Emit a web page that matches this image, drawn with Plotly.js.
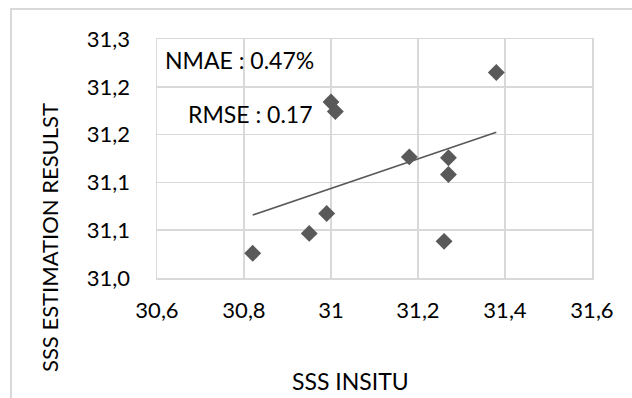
<!DOCTYPE html>
<html>
<head>
<meta charset="utf-8">
<script src="https://cdn.plot.ly/plotly-3.0.1.min.js"></script>
<style>
  html, body { margin: 0; padding: 0; background: #ffffff; }
  #frame { position: absolute; left: 10px; top: 8px; width: 640px; height: 400px;
           border-top: 2px solid #d9d9d9; border-left: 2px solid #d9d9d9; }
  #chart { position: absolute; left: 0; top: 0; width: 632px; height: 398px; }
</style>
</head>
<body>
<div id="frame"></div>
<div id="chart"></div>
<script>
// Data
const sssInsitu = [30.82, 30.95, 30.99, 31.00, 31.01, 31.18, 31.27, 31.27, 31.26, 31.38];
const sssEstimation = [31.031, 31.056, 31.081, 31.221, 31.209, 31.152, 31.151, 31.130, 31.046, 31.258];

const xTickVals = [30.6, 30.8, 31.0, 31.2, 31.4, 31.6];
const xTickText = ["30,6", "30,8", "31", "31,2", "31,4", "31,6"];
const yTickVals = [31.0, 31.06, 31.12, 31.18, 31.24, 31.30];
const yTickText = ["31,0", "31,1", "31,1", "31,2", "31,2", "31,3"];

const xTitle = "SSS INSITU";
const yTitle = "SSS ESTIMATION RESULST";
const labels = ["NMAE : 0.47%", "RMSE : 0.17"];

// Linear trendline (least squares) over the data range
const n = sssInsitu.length;
const mx = sssInsitu.reduce((a, b) => a + b, 0) / n;
const my = sssEstimation.reduce((a, b) => a + b, 0) / n;
let sxy = 0, sxx = 0;
for (let i = 0; i < n; i++) {
  sxy += (sssInsitu[i] - mx) * (sssEstimation[i] - my);
  sxx += (sssInsitu[i] - mx) ** 2;
}
const slope = sxy / sxx, intercept = my - slope * mx;
const xMin = Math.min(...sssInsitu), xMax = Math.max(...sssInsitu);
const trendX = [xMin, xMax];
const trendY = trendX.map(x => intercept + slope * x);

const FONT = "Lato, 'Open Sans', sans-serif";

const traces = [
  { x: trendX, y: trendY, type: "scatter", mode: "lines",
    line: { color: "#595959", width: 1.6 }, hoverinfo: "skip", showlegend: false },
  { x: sssInsitu, y: sssEstimation, type: "scatter", mode: "markers",
    marker: { symbol: "diamond", size: 13, color: "#595959" }, showlegend: false }
];

const layout = {
  width: 632, height: 398,
  margin: { l: 157, r: 40, t: 39, b: 120 },
  paper_bgcolor: "rgba(0,0,0,0)", plot_bgcolor: "#ffffff",
  font: { family: FONT, color: "#000000", size: 22 },
  showlegend: false,
  xaxis: {
    range: [30.6, 31.6], tickmode: "array", tickvals: xTickVals, ticktext: xTickText,
    showgrid: true, gridcolor: "#d9d9d9", gridwidth: 1.5,
    showline: true, linecolor: "#d9d9d9", linewidth: 1.5, mirror: true,
    zeroline: false, ticks: "outside", ticklen: 12, tickcolor: "rgba(0,0,0,0)",
    tickfont: { family: FONT, size: 22, color: "#000" },
    automargin: false
  },
  yaxis: {
    range: [31.0, 31.3], tickmode: "array", tickvals: yTickVals, ticktext: yTickText,
    showgrid: true, gridcolor: "#d9d9d9", gridwidth: 1.5,
    showline: true, linecolor: "#d9d9d9", linewidth: 1.5, mirror: true,
    zeroline: false, ticks: "outside", ticklen: 21, tickcolor: "rgba(0,0,0,0)",
    tickfont: { family: FONT, size: 22, color: "#000" },
    automargin: false
  },
  annotations: [
    { text: labels[0], xref: "paper", yref: "paper", x: 0.014, y: 0.912,
      xanchor: "left", yanchor: "middle", showarrow: false,
      font: { family: FONT, size: 23, color: "#000" } },
    { text: labels[1], xref: "paper", yref: "paper", x: 0.067, y: 0.688,
      xanchor: "left", yanchor: "middle", showarrow: false,
      font: { family: FONT, size: 23, color: "#000" } },
    { text: xTitle, xref: "paper", yref: "paper", x: 0.4437, y: -0.431,
      xanchor: "center", yanchor: "middle", showarrow: false,
      font: { family: FONT, size: 23, color: "#000" } },
    { text: yTitle, xref: "paper", yref: "paper", x: -0.2483, y: 0.1715,
      xanchor: "center", yanchor: "middle", showarrow: false, textangle: -90,
      font: { family: FONT, size: 22, color: "#000" } }
  ]
};

Plotly.newPlot("chart", traces, layout, { staticPlot: true, displayModeBar: false });
</script>
</body>
</html>
